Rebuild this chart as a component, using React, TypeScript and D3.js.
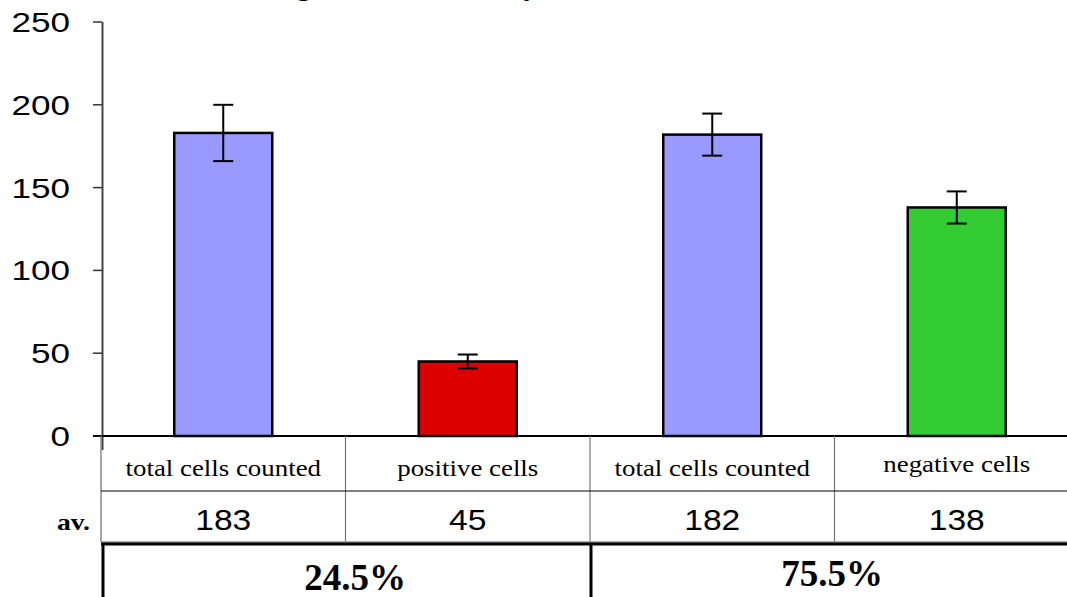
import React from "react";
import * as d3 from "d3";

const categories = ["total cells counted", "positive cells", "total cells counted", "negative cells"];
const values = [183, 45, 182, 138];
const errors = [17, 4.2, 12.7, 9.7];
const colors = ["#9999FF", "#DD0000", "#9999FF", "#33CC33"];
const avLabels = ["183", "45", "182", "138"];
const percentLabels = ["24.5%", "75.5%"];
const yTicks = [0, 50, 100, 150, 200, 250];
const title = "Immunostaining of counted cells by IHC";

function SText({ x, y, sx, children, ...rest }: any) {
  return (
    <text transform={`translate(${x},${y}) scale(${sx},1)`} {...rest}>{children}</text>
  );
}

export default function App() {
  const W = 1067, H = 597;
  const x0 = 101, bandW = 244.5;
  const x = d3.scaleBand<number>().domain(d3.range(categories.length)).range([x0, x0 + bandW * 4]).paddingInner(0).paddingOuter(0);
  const y = d3.scaleLinear().domain([0, 250]).range([436, 22]);
  const barW = 98;
  const row1Top = 436, row1Bot = 491, row2Bot = 542;
  return (
    <svg width={W} height={H} style={{ position: "absolute", left: 0, top: 0 }}>
      <rect width={W} height={H} fill="#fff" />
      <text x={113} y={-5} fontFamily="Liberation Serif" fontWeight="bold" fontSize={28}>{title}</text>
      {/* y axis */}
      <line x1={102.5} x2={102.5} y1={y(250)} y2={450} stroke="#444" strokeWidth={2} />
      {yTicks.map((t) => (
        <g key={t}>
          <line x1={93} x2={102} y1={y(t)} y2={y(t)} stroke="#333" strokeWidth={1.5} />
          <SText x={70} y={y(t) + 10} sx={1.3} textAnchor="end" fontFamily="Liberation Sans" fontSize={27}>{t}</SText>
        </g>
      ))}
      {/* bars */}
      {values.map((v, i) => {
        const cx = (x(i) as number) + x.bandwidth() / 2;
        return (
          <g key={i}>
            <rect x={cx - barW / 2} y={y(v)} width={barW} height={y(0) - y(v)} fill={colors[i]} stroke="#000" strokeWidth={2.5} />
            <line x1={cx} x2={cx} y1={y(v + errors[i])} y2={y(v - errors[i])} stroke="#000" strokeWidth={2} />
            <line x1={cx - 10} x2={cx + 10} y1={y(v + errors[i])} y2={y(v + errors[i])} stroke="#000" strokeWidth={2} />
            <line x1={cx - 10} x2={cx + 10} y1={y(v - errors[i])} y2={y(v - errors[i])} stroke="#000" strokeWidth={2} />
          </g>
        );
      })}
      {/* baseline */}
      <line x1={93} x2={W} y1={y(0)} y2={y(0)} stroke="#000" strokeWidth={2} />
      {/* table */}
      <line x1={x0} x2={x0} y1={row1Top} y2={row2Bot} stroke="#888" strokeWidth={1.5} />
      {[1, 2, 3].map((i) => (
        <line key={i} x1={x(i) as number} x2={x(i) as number} y1={row1Top} y2={row2Bot} stroke="#777" strokeWidth={1.2} />
      ))}
      <line x1={x0} x2={W} y1={row1Bot} y2={row1Bot} stroke="#000" strokeWidth={1.2} />
      <line x1={x0} x2={W} y1={row2Bot} y2={row2Bot} stroke="#888" strokeWidth={1.5} />
      {categories.map((c, i) => (
        <SText key={i} x={(x(i) as number) + x.bandwidth() / 2} y={i === 3 ? 472 : 476} sx={1.12} textAnchor="middle" fontFamily="Liberation Serif" fontSize={24}>{c}</SText>
      ))}
      {avLabels.map((a, i) => (
        <SText key={i} x={(x(i) as number) + x.bandwidth() / 2} y={530} sx={1.12} textAnchor="middle" fontFamily="Liberation Sans" fontSize={30}>{a}</SText>
      ))}
      <SText x={90} y={530} sx={1.2} textAnchor="end" fontFamily="Liberation Serif" fontWeight="bold" fontSize={23}>av.</SText>
      {/* percent box */}
      <line x1={x0} x2={W} y1={544} y2={544} stroke="#000" strokeWidth={3} />
      <line x1={103} x2={103} y1={544} y2={H} stroke="#000" strokeWidth={3} />
      <line x1={591} x2={591} y1={544} y2={H} stroke="#000" strokeWidth={3} />
      <text x={355} y={590} textAnchor="middle" fontFamily="Liberation Serif" fontWeight="bold" fontSize={37}>{percentLabels[0]}</text>
      <text x={832} y={586} textAnchor="middle" fontFamily="Liberation Serif" fontWeight="bold" fontSize={37}>{percentLabels[1]}</text>
    </svg>
  );
}
